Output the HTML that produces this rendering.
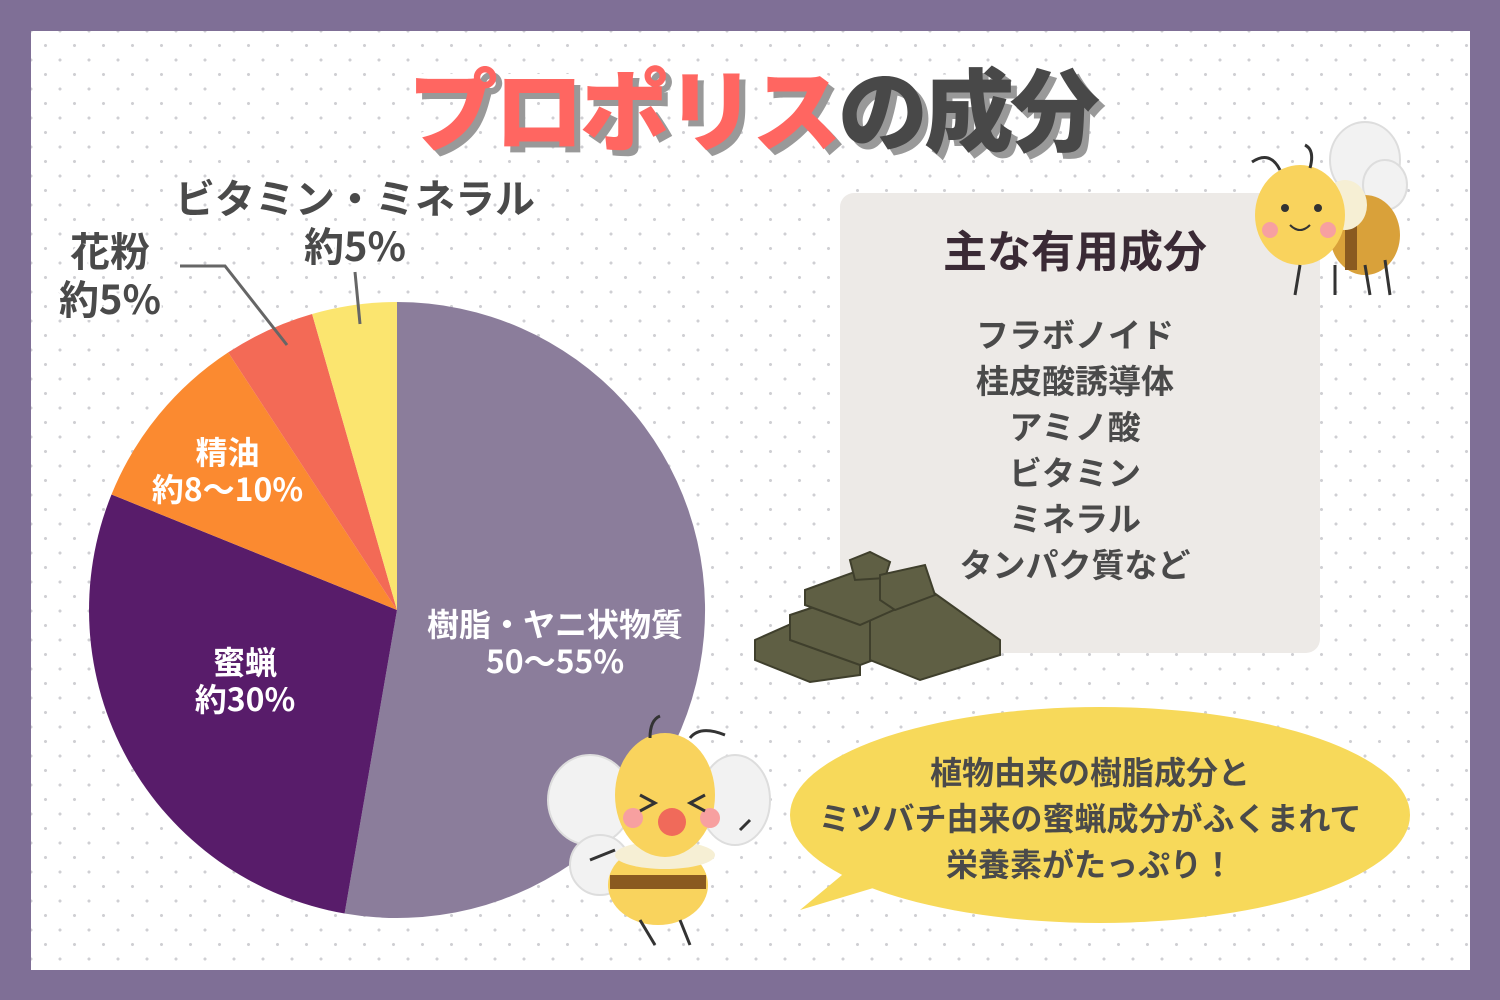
<!DOCTYPE html>
<html><head><meta charset="utf-8"><style>
*{margin:0;padding:0;box-sizing:border-box}
body{width:1500px;height:1000px;background:#7f6f96;position:relative;overflow:hidden;font-family:"Liberation Sans","Noto Sans CJK JP",sans-serif;font-weight:bold}
#in{position:absolute;left:31px;top:31px;width:1439px;height:939px;background-color:#fff;
background-image:radial-gradient(circle,#cfcfd3 1.3px,transparent 1.8px),radial-gradient(circle,#cfcfd3 1.3px,transparent 1.8px);
background-size:29px 29px;background-position:0 0,14.5px 14.5px}
.t{position:absolute;white-space:nowrap;font-family:"Noto Sans CJK JP",sans-serif;font-weight:900}
#title{left:408px;top:40px;font-size:90px;letter-spacing:-4px;color:#ff6661;
text-shadow:6px 6px 0 #999,-4px -4px 0 #fff,4px -4px 0 #fff,-4px 4px 0 #fff,4px 4px 0 #fff,0 5px 0 #fff,5px 0 0 #fff,-5px 0 0 #fff,0 -5px 0 #fff}
#title span{color:#484848}
.lab{position:absolute;text-align:center;font-family:"Noto Sans CJK JP",sans-serif;font-weight:bold;line-height:1.2;white-space:nowrap}
.dark{color:#4a4a4a;font-size:40px;text-shadow:-2px -2px 0 #fff,2px -2px 0 #fff,-2px 2px 0 #fff,2px 2px 0 #fff}
.wh{color:#fff;font-size:32px;line-height:1.15}
#box{position:absolute;left:840px;top:193px;width:480px;height:460px;background:#edeae7;border-radius:14px}
svg{position:absolute;left:0;top:0}
</style></head><body>
<div id="in"></div>
<div class="t" id="title">プロポリス<span>の成分</span></div>

<svg width="1500" height="1000">
<g transform="translate(397,610)">
<path d="M0,0 L0,-308 A308,308 0 1 1 -52.4,303.5 Z" fill="#8b7d9b"/>
<path d="M0,0 L-52.4,303.5 A308,308 0 0 1 -285.5,-115.5 Z" fill="#581c6a"/>
<path d="M0,0 L-285.5,-115.5 A308,308 0 0 1 -168.8,-257.6 Z" fill="#fb8a30"/>
<path d="M0,0 L-168.8,-257.6 A308,308 0 0 1 -84.9,-296 Z" fill="#f36a56"/>
<path d="M0,0 L-84.9,-296 A308,308 0 0 1 0,-308 Z" fill="#fbe56f"/>
</g>
<polyline points="180,266 225,266 287,345" fill="none" stroke="#666" stroke-width="3"/>
<line x1="355" y1="272" x2="360" y2="324" stroke="#666" stroke-width="3"/>
<ellipse cx="1100" cy="815" rx="310" ry="108" fill="#f7d95a"/>
<polygon points="800,910 860,860 900,880" fill="#f7d95a"/>
</svg>

<div id="box"></div>

<svg width="1500" height="1000">
<g stroke="#3f3f2c" stroke-width="2" fill="#5f5f44">
<polygon points="755,640 800,620 860,650 860,675 810,682 755,660"/>
<polygon points="790,615 850,595 900,620 900,650 860,665 790,640"/>
<polygon points="870,610 930,590 1000,640 1000,655 920,680 870,660"/>
<polygon points="805,590 860,570 905,585 905,605 860,625 805,605"/>
<polygon points="850,560 870,552 890,562 885,578 855,580"/>
<polygon points="880,575 925,565 935,595 895,610 880,600"/>
</g>
<g>
<ellipse cx="1365" cy="160" rx="35" ry="38" fill="#f2f2f2" stroke="#ddd" stroke-width="2"/>
<ellipse cx="1385" cy="185" rx="22" ry="25" fill="#f2f2f2" stroke="#ddd" stroke-width="2"/>
<ellipse cx="1365" cy="235" rx="35" ry="40" fill="#d9a13a"/>
<rect x="1345" y="215" width="12" height="55" fill="#8a5a20"/>
<ellipse cx="1345" cy="205" rx="22" ry="25" fill="#f6efd4"/>
<ellipse cx="1300" cy="215" rx="45" ry="50" fill="#f9d35d"/>
<circle cx="1285" cy="208" r="4" fill="#333"/><circle cx="1318" cy="208" r="4" fill="#333"/>
<circle cx="1270" cy="230" r="8" fill="#f7a0a0"/><circle cx="1328" cy="230" r="8" fill="#f7a0a0"/>
<path d="M1290,225 Q1300,235 1310,225" fill="none" stroke="#333" stroke-width="2"/>
<path d="M1280,170 Q1270,150 1252,162 M1310,168 Q1315,150 1305,145" fill="none" stroke="#333" stroke-width="3"/>
<path d="M1300,265 l-5,30 M1335,265 l0,30 M1365,265 l5,30 M1385,260 l5,35" stroke="#333" stroke-width="3"/>
</g>
<g>
<ellipse cx="590" cy="800" rx="42" ry="45" fill="#f2f2f2" stroke="#ddd" stroke-width="2"/>
<ellipse cx="735" cy="800" rx="35" ry="45" fill="#f2f2f2" stroke="#ddd" stroke-width="2"/>
<ellipse cx="600" cy="865" rx="30" ry="30" fill="#f2f2f2" stroke="#ddd" stroke-width="2"/>
<ellipse cx="658" cy="885" rx="50" ry="40" fill="#f9d35d"/>
<rect x="610" y="875" width="96" height="14" fill="#8a5a20"/>
<ellipse cx="665" cy="855" rx="50" ry="14" fill="#f6efd4"/>
<ellipse cx="665" cy="795" rx="50" ry="62" fill="#f9d35d"/>
<circle cx="633" cy="818" r="10" fill="#f7a0a0"/><circle cx="710" cy="818" r="10" fill="#f7a0a0"/>
<ellipse cx="672" cy="822" rx="14" ry="14" fill="#f06a5a"/>
<path d="M640,795 l15,8 l-15,8 M705,795 l-15,8 l15,8" fill="none" stroke="#333" stroke-width="3"/>
<path d="M650,738 Q650,720 660,716 M690,738 Q700,725 725,735" fill="none" stroke="#333" stroke-width="3"/>
<path d="M740,830 l10,-10 M615,850 l-25,10 M640,920 l15,25 M680,920 l10,25" stroke="#333" stroke-width="3"/>
</g>
</svg>

<div class="lab" style="left:835px;top:222px;width:480px;font-size:44px;color:#3a2a35">主な有用成分</div>
<div class="lab" style="left:835px;top:310px;width:480px;font-size:33px;color:#4a4a4a;line-height:46px">フラボノイド<br>桂皮酸誘導体<br>アミノ酸<br>ビタミン<br>ミネラル<br>タンパク質など</div>

<div class="lab dark" style="left:160px;top:172px;width:390px">ビタミン・ミネラル<br>約5%</div>
<div class="lab dark" style="left:50px;top:225px;width:120px">花粉<br>約5%</div>
<div class="lab wh" style="left:130px;top:433px;width:195px">精油<br>約8～10%</div>
<div class="lab wh" style="left:170px;top:643px;width:150px">蜜蝋<br>約30%</div>
<div class="lab wh" style="left:405px;top:605px;width:300px">樹脂・ヤニ状物質<br>50～55%</div>
<div class="lab" style="left:785px;top:748px;width:610px;font-size:32px;color:#4a4a4a;line-height:46px">植物由来の樹脂成分と<br>ミツバチ由来の蜜蝋成分がふくまれて<br>栄養素がたっぷり！</div>
</body></html>
